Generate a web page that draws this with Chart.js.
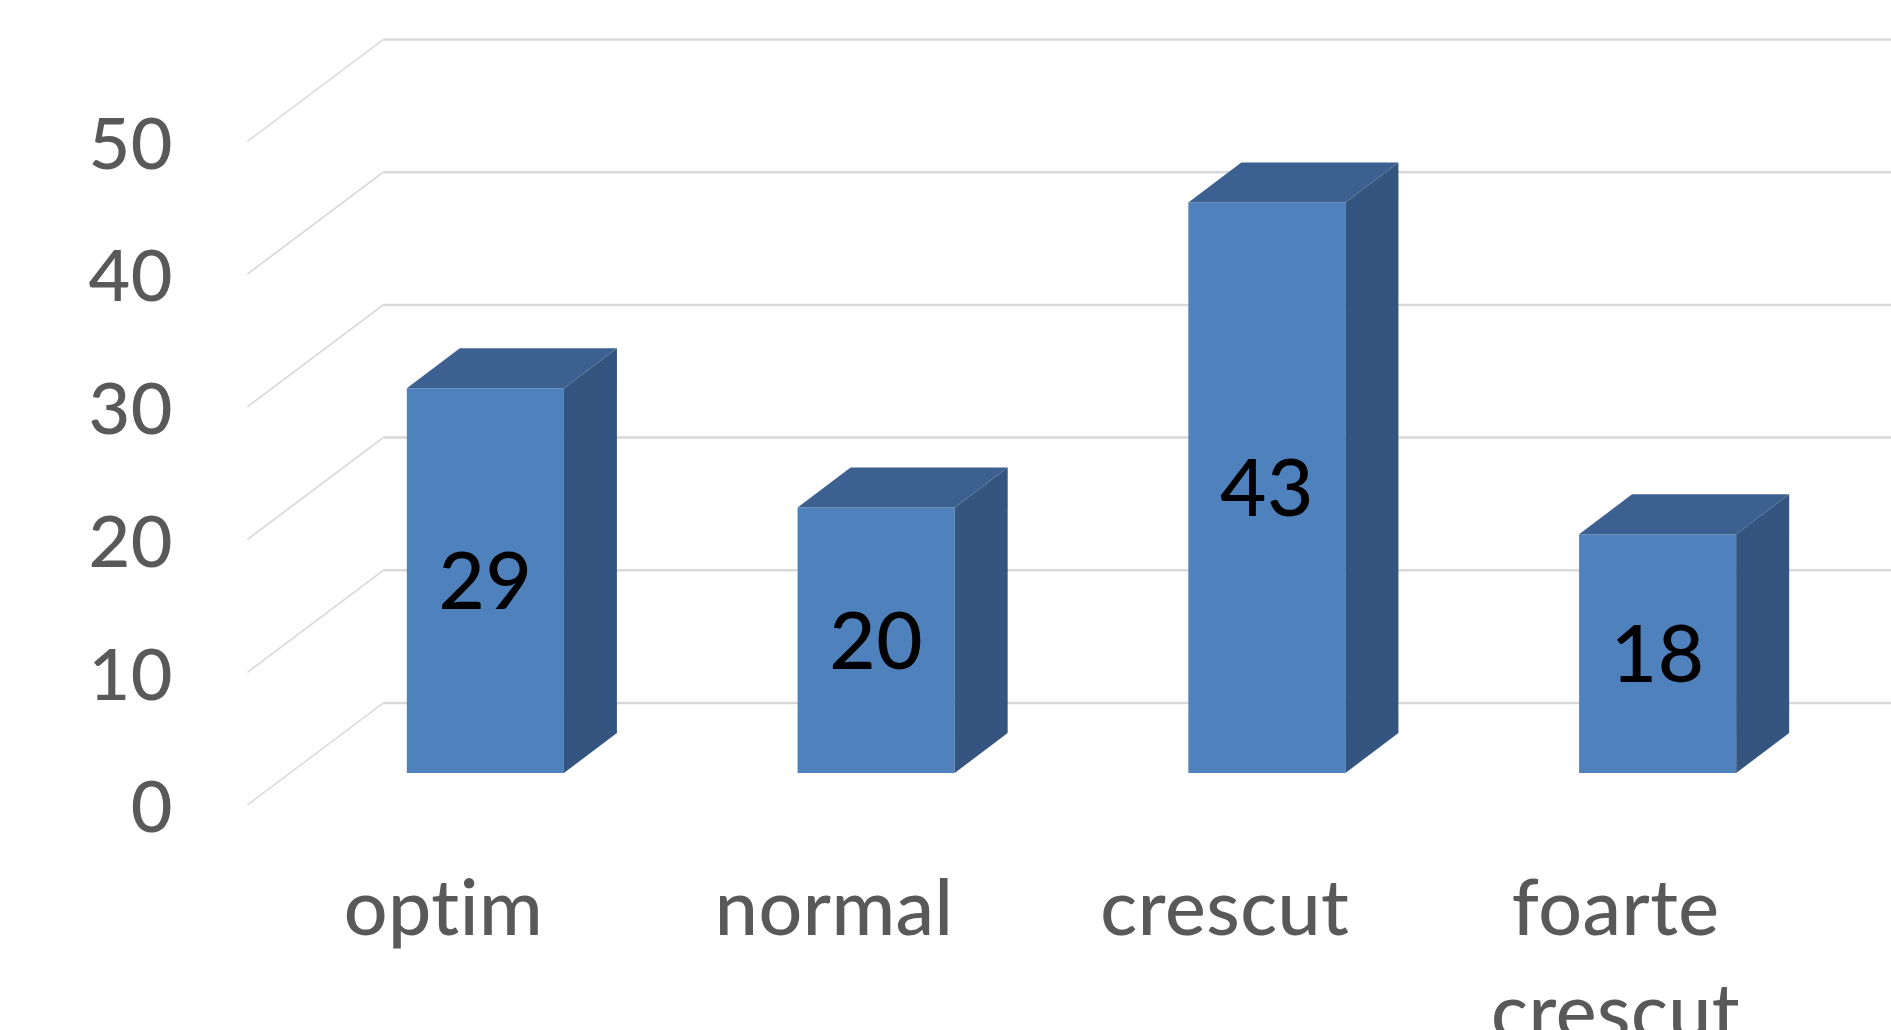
<!DOCTYPE html>
<html>
<head>
<meta charset="utf-8">
<script src="https://cdn.jsdelivr.net/npm/chart.js@4/dist/chart.umd.min.js"></script>
<style>
  html, body { margin: 0; padding: 0; background: #ffffff; overflow: hidden; }
  #wrap { width: 1891px; height: 1030px; }
</style>
</head>
<body>
<div id="wrap"><canvas id="chart"></canvas></div>
<script>
// Categories, values and value-axis ticks
const categories = ['optim', 'normal', 'crescut', ['foarte', 'crescut']];
const values = [29, 20, 43, 18];
const yTicks = [0, 10, 20, 30, 40, 50];

// Oblique projection offsets, measured from the plane of the bar fronts
const FRONT = { dx: -42.7, dy: 32 };   // front edge of the floor
const BACK = { dx: 93.3, dy: -70 };    // back wall
const BAR_DEPTH = { dx: 53, dy: -40 }; // depth of each column

const COLORS = {
  front: '#4F81BD',
  top: '#3C6090',
  side: '#34557F',
  grid: '#D9D9D9',
  diag: '#D6D6D6',
  axisText: '#595959',
  valueText: '#000000'
};

const FONT_FAMILY = 'Lato';
const FONT_WEIGHT = 500;

const box3d = {
  id: 'box3d',
  beforeDraw(chart) {
    // a hair of letter spacing keeps "ti" from turning into a ligature
    chart.ctx.letterSpacing = '0.5px';
  },
  beforeDatasetsDraw(chart) {
    const { ctx, chartArea, scales: { y } } = chart;
    ctx.save();
    y.ticks.forEach(t => {
      const py = y.getPixelForValue(t.value);
      const fx = chartArea.left + FRONT.dx, fy = py + FRONT.dy;
      const bx = chartArea.left + BACK.dx, by = py + BACK.dy;
      // side wall line running back from the front edge
      ctx.strokeStyle = COLORS.diag;
      ctx.lineWidth = 1.5;
      ctx.beginPath();
      ctx.moveTo(fx, fy);
      ctx.lineTo(bx, by);
      ctx.stroke();
      // back wall gridline
      ctx.strokeStyle = COLORS.grid;
      ctx.lineWidth = 2.5;
      ctx.beginPath();
      ctx.moveTo(bx, by);
      ctx.lineTo(chart.width, by);
      ctx.stroke();
    });
    ctx.restore();
  },
  afterDatasetsDraw(chart) {
    const { ctx } = chart;
    const meta = chart.getDatasetMeta(0);
    ctx.save();
    meta.data.forEach((bar, i) => {
      const { x, y, base, width } = bar.getProps(['x', 'y', 'base', 'width'], true);
      const l = x - width / 2, r = x + width / 2;
      const { dx, dy } = BAR_DEPTH;
      // right side face
      ctx.fillStyle = COLORS.side;
      ctx.beginPath();
      ctx.moveTo(r, y);
      ctx.lineTo(r + dx, y + dy);
      ctx.lineTo(r + dx, base + dy);
      ctx.lineTo(r, base);
      ctx.closePath();
      ctx.fill();
      // top face
      ctx.fillStyle = COLORS.top;
      ctx.beginPath();
      ctx.moveTo(l, y);
      ctx.lineTo(r, y);
      ctx.lineTo(r + dx, y + dy);
      ctx.lineTo(l + dx, y + dy);
      ctx.closePath();
      ctx.fill();
      // value label centred on the front face
      const size = 80;
      ctx.font = FONT_WEIGHT + ' ' + size + 'px ' + FONT_FAMILY;
      ctx.fillStyle = COLORS.valueText;
      ctx.textAlign = 'center';
      ctx.textBaseline = 'alphabetic';
      ctx.fillText(String(values[i]), x, (y + base) / 2 + size * 0.358);
    });
    ctx.restore();
  }
};

new Chart(document.getElementById('chart'), {
  type: 'bar',
  data: {
    labels: categories,
    datasets: [{
      data: values,
      backgroundColor: COLORS.front,
      borderWidth: 0,
      categoryPercentage: 0.402,
      barPercentage: 1
    }]
  },
  options: {
    responsive: true,
    maintainAspectRatio: false,
    devicePixelRatio: 1,
    animation: false,
    events: [],
    layout: { padding: { top: 109.5, right: 38, bottom: 0, left: 0 } },
    plugins: { legend: { display: false }, tooltip: { enabled: false } },
    scales: {
      x: {
        grid: { display: false, drawTicks: false },
        border: { display: false },
        ticks: {
          font: { family: FONT_FAMILY, size: 77, weight: FONT_WEIGHT, lineHeight: 1.36 },
          color: COLORS.axisText,
          padding: 84.5,
          labelOffset: -42,
          maxRotation: 0,
          autoSkip: false
        },
        afterFit(scale) {
          scale.height = 257;
          scale.paddingLeft = 0;
          scale.paddingRight = 0;
        }
      },
      y: {
        min: 0,
        max: 50,
        grid: { display: false, drawTicks: false },
        border: { display: false },
        ticks: {
          font: { family: FONT_FAMILY, size: 72, weight: FONT_WEIGHT },
          color: COLORS.axisText,
          padding: 117,
          labelOffset: 36
        },
        afterBuildTicks(scale) {
          scale.ticks = yTicks.map(v => ({ value: v }));
        },
        afterFit(scale) {
          scale.width = 290;
          scale.paddingTop = 0;
          scale.paddingBottom = 0;
        }
      }
    }
  },
  plugins: [box3d]
});
</script>
</body>
</html>
